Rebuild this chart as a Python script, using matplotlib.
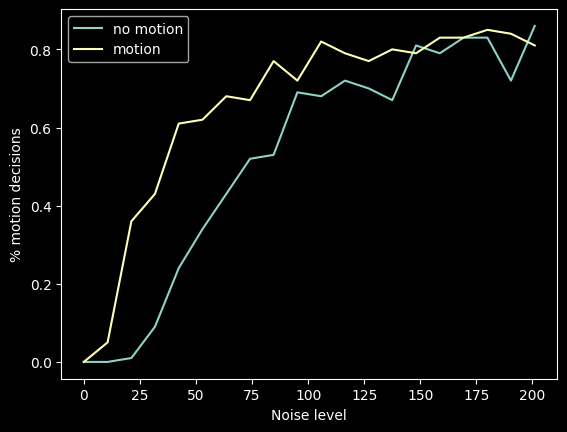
import matplotlib
matplotlib.use("Agg")
import matplotlib.pyplot as plt

# noise levels (20 steps)
noise = [0, 10.6, 21.2, 31.7, 42.3, 52.9, 63.5, 74.1, 84.6, 95.2,
         105.8, 116.4, 127.0, 137.5, 148.1, 158.7, 169.3, 179.9, 190.4, 201.0]

# fraction of "motion" decisions per condition
no_motion = [0.0, 0.0, 0.01, 0.09, 0.24, 0.34, 0.43, 0.52, 0.53, 0.69,
             0.68, 0.72, 0.70, 0.67, 0.81, 0.79, 0.83, 0.83, 0.72, 0.86]
motion = [0.0, 0.05, 0.36, 0.43, 0.61, 0.62, 0.68, 0.67, 0.77, 0.72,
          0.82, 0.79, 0.77, 0.80, 0.79, 0.83, 0.83, 0.85, 0.84, 0.81]

plt.style.use("dark_background")

fig, ax = plt.subplots()
ax.plot(noise, no_motion, label="no motion")
ax.plot(noise, motion, label="motion")
ax.set_xlabel("Noise level")
ax.set_ylabel("% motion decisions")
ax.legend()

fig.savefig("out.png", bbox_inches="tight")
